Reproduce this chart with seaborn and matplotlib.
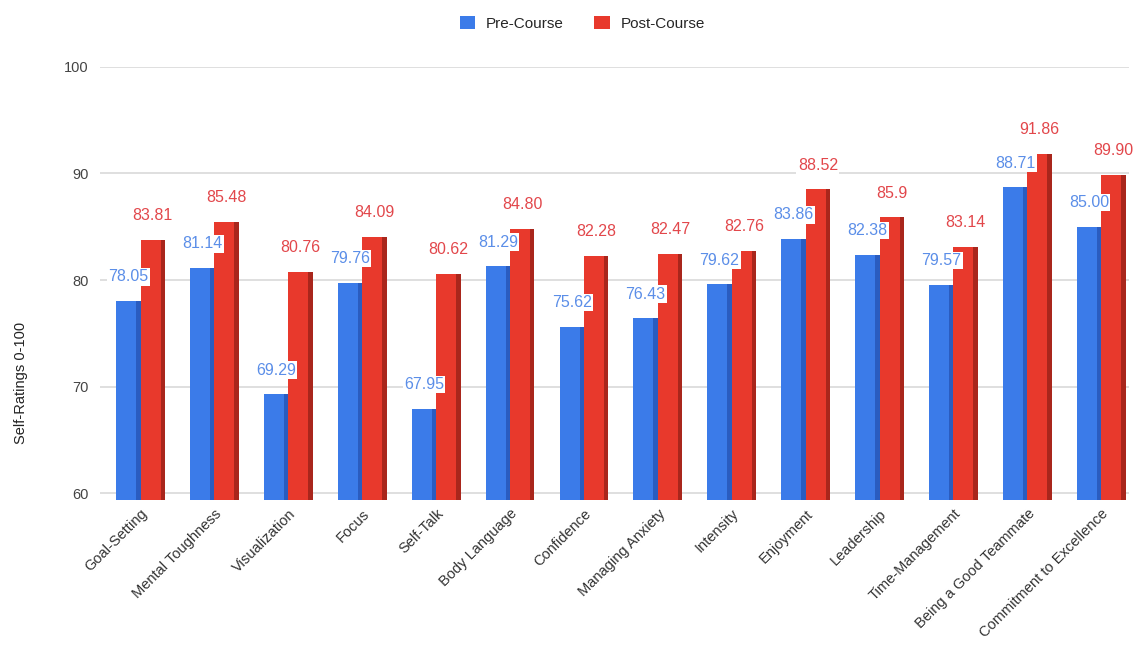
import matplotlib
matplotlib.use("Agg")
import matplotlib.pyplot as plt
import seaborn as sns
import pandas as pd
from matplotlib.patches import Rectangle, Patch

categories = ["Goal-Setting", "Mental Toughness", "Visualization", "Focus", "Self-Talk",
              "Body Language", "Confidence", "Managing Anxiety", "Intensity", "Enjoyment",
              "Leadership", "Time-Management", "Being a Good Teammate", "Commitment to Excellence"]
pre_values = [78.05, 81.14, 69.29, 79.76, 67.95, 81.29, 75.62, 76.43, 79.62, 83.86, 82.38, 79.57, 88.71, 85.00]
post_values = [83.81, 85.48, 80.76, 84.09, 80.62, 84.80, 82.28, 82.47, 82.76, 88.52, 85.9, 83.14, 91.86, 89.90]
pre_labels = ["78.05", "81.14", "69.29", "79.76", "67.95", "81.29", "75.62", "76.43", "79.62", "83.86", "82.38", "79.57", "88.71", "85.00"]
post_labels = ["83.81", "85.48", "80.76", "84.09", "80.62", "84.80", "82.28", "82.47", "82.76", "88.52", "85.9", "83.14", "91.86", "89.90"]
series = ["Pre-Course", "Post-Course"]
yticks = [60, 70, 80, 90, 100]

colors = {"Pre-Course": "#3b7be9", "Post-Course": "#e8392c"}
side_colors = {"Pre-Course": "#2a5cc0", "Post-Course": "#a9261c"}
label_colors = {"Pre-Course": "#5b8ee8", "Post-Course": "#e2474b"}

df = pd.DataFrame({
    "category": categories * 2,
    "series": [series[0]] * len(categories) + [series[1]] * len(categories),
    "value": pre_values + post_values,
})

sns.set_theme(style="white")
plt.rcParams["font.family"] = ["Liberation Sans", "DejaVu Sans"]

fig = plt.figure(figsize=(11.35, 6.62), dpi=100)
ax = fig.add_axes([0.088, 0.245, 0.907, 0.654])

sns.barplot(data=df, x="category", y="value", hue="series", hue_order=series,
            palette=colors, width=0.66, ax=ax, legend=False, saturation=1, zorder=2,
            linewidth=0, edgecolor="none")

ax.set_ylim(59.4, 100)
ax.set_xlim(-0.55, len(categories) - 0.62)
ax.set_yticks(yticks)
ax.set_yticklabels([str(t) for t in yticks], fontsize=10.5, color="#444444")
for t in yticks:
    ax.axhline(t, color="#d9d9d9", linewidth=1.2, zorder=1)
for s in ax.spines.values():
    s.set_visible(False)
ax.tick_params(axis="both", length=0, pad=8)
ax.set_xlabel("")
ax.set_ylabel("Self-Ratings 0-100", fontsize=10.5, color="#222222")
ax.yaxis.set_label_coords(-0.07, 0.27)
plt.setp(ax.get_xticklabels(), rotation=45, ha="right", rotation_mode="anchor",
         fontsize=10.5, color="#333333")
ax.tick_params(axis="x", pad=5)

label_sets = [pre_labels, post_labels]
for cont, name, labs in zip(ax.containers, series, label_sets):
    for bar, lab in zip(cont.patches, labs):
        x0 = bar.get_x()
        w = bar.get_width()
        h = bar.get_height()
        y0 = bar.get_y()
        # darker right side for the shaded-bar look
        ax.add_patch(Rectangle((x0 + w * 0.82, y0), w * 0.18, h,
                               facecolor=side_colors[name], edgecolor="none", zorder=2.5))
        ax.annotate(lab, (x0 + w / 2, y0 + h), xytext=(0, 12), textcoords="offset points",
                    ha="center", va="bottom", fontsize=11.5, color=label_colors[name],
                    bbox=dict(boxstyle="square,pad=0.08", facecolor="white", edgecolor="none"),
                    zorder=5)

handles = [Patch(facecolor=colors[s], edgecolor="none") for s in series]
fig.legend(handles, series, loc="center", bbox_to_anchor=(0.513, 0.965), ncol=2,
           frameon=False, fontsize=11, handlelength=1.0, handleheight=1.0,
           columnspacing=2.0, handletextpad=0.7)

fig.savefig("out.png", dpi=100, facecolor="white")
